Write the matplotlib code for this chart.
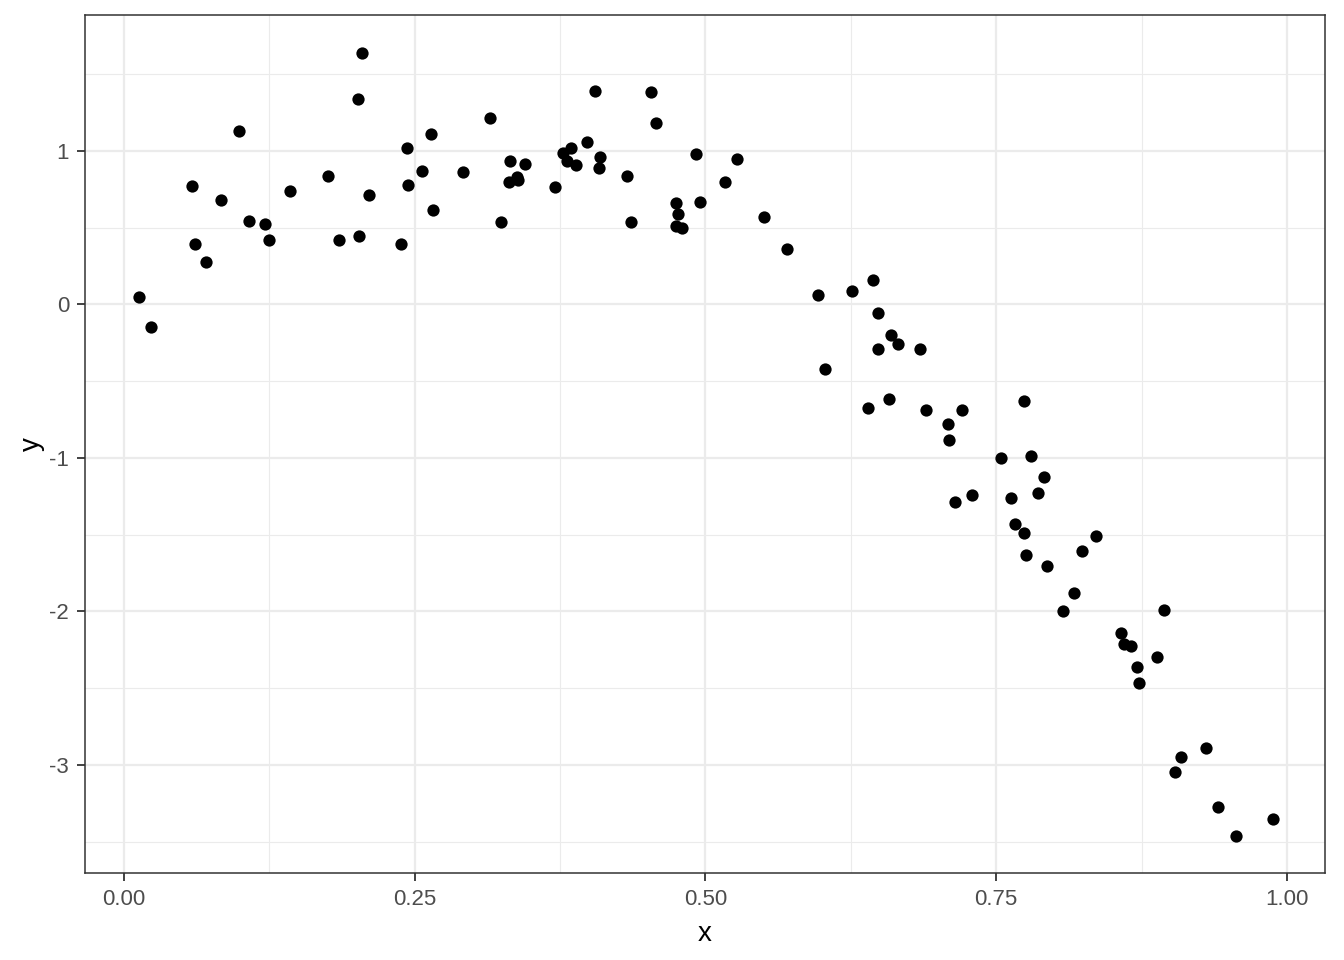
#!/usr/bin/env python3

import numpy as np
import matplotlib
matplotlib.use('Agg')
import matplotlib.pyplot as plt

plt.rcParams.update({
    'font.family': ['Liberation Sans', 'DejaVu Sans'],
})

# points
x = [0.0129, 0.0232, 0.0585, 0.0610, 0.0705, 0.0834, 0.0989, 0.1075, 0.1212, 0.1247,
     0.1427, 0.1754, 0.1849, 0.2012, 0.2021, 0.2046, 0.2107, 0.2382, 0.2433, 0.2442,
     0.2562, 0.2640, 0.2657, 0.2915, 0.3147, 0.3242, 0.3310, 0.3319, 0.3379, 0.3388,
     0.3448, 0.3706, 0.3775, 0.3809, 0.3844, 0.3886, 0.3981, 0.4050, 0.4093, 0.4084,
     0.4325, 0.4359, 0.4531, 0.4574, 0.4746, 0.4764, 0.4746, 0.4798, 0.4918, 0.4953,
     0.5168, 0.5271, 0.5503, 0.5701, 0.5967, 0.6028, 0.6260, 0.6397, 0.6440, 0.6483,
     0.6483, 0.6578, 0.6595, 0.6655, 0.6844, 0.6896, 0.7085, 0.7094, 0.7145, 0.7205,
     0.7291, 0.7541, 0.7627, 0.7661, 0.7739, 0.7739, 0.7756, 0.7799, 0.7859, 0.7911,
     0.7936, 0.8074, 0.8169, 0.8237, 0.8358, 0.8573, 0.8598, 0.8659, 0.8710, 0.8727,
     0.8882, 0.8942, 0.9037, 0.9089, 0.9304, 0.9407, 0.9561, 0.9880]
y = [0.049, -0.147, 0.772, 0.394, 0.277, 0.681, 1.130, 0.544, 0.524, 0.420,
     0.739, 0.837, 0.420, 1.339, 0.446, 1.638, 0.713, 0.394, 1.020, 0.779,
     0.870, 1.111, 0.616, 0.863, 1.215, 0.537, 0.798, 0.935, 0.831, 0.811,
     0.915, 0.765, 0.987, 0.935, 1.020, 0.909, 1.059, 1.391, 0.961, 0.889,
     0.837, 0.537, 1.384, 1.182, 0.661, 0.590, 0.511, 0.498, 0.980, 0.668,
     0.798, 0.948, 0.570, 0.362, 0.062, -0.420, 0.088, -0.674, 0.160, -0.055,
     -0.290, -0.616, -0.199, -0.257, -0.290, -0.687, -0.779, -0.883, -1.287, -0.687,
     -1.241, -1.000, -1.261, -1.430, -1.489, -0.629, -1.632, -0.987, -1.228, -1.124,
     -1.704, -1.997, -1.879, -1.603, -1.508, -2.140, -2.212, -2.225, -2.362, -2.466,
     -2.296, -1.990, -3.046, -2.948, -2.889, -3.274, -3.463, -3.352]

xTicks = [0.0, 0.25, 0.5, 0.75, 1.0]
xTickLabels = ['0.00', '0.25', '0.50', '0.75', '1.00']
yTicks = [-3, -2, -1, 0, 1]
yTickLabels = ['-3', '-2', '-1', '0', '1']

fig = plt.figure(figsize=(13.44, 9.6), dpi=100)
ax = fig.add_axes([85/1344, 1-873/960, 1240/1344, 858/960])

ax.scatter(x, y, s=78, color='black', linewidths=0, zorder=3)

ax.set_xlim(-0.0335, 1.0327)
ax.set_ylim(-3.704, 1.886)

ax.set_xticks(xTicks)
ax.set_xticklabels(xTickLabels)
ax.set_yticks(yTicks)
ax.set_yticklabels(yTickLabels)
ax.set_xticks([0.125, 0.375, 0.625, 0.875], minor=True)
ax.set_yticks([-3.5, -2.5, -1.5, -0.5, 0.5, 1.5], minor=True)

ax.grid(True, which='major', color='#EBEBEB', linewidth=1.6, zorder=0)
ax.grid(True, which='minor', color='#EBEBEB', linewidth=0.8, zorder=0)
ax.set_axisbelow(True)

ax.tick_params(which='major', direction='out', length=5.5, width=1.3,
               color='#333333', labelcolor='#4D4D4D', labelsize=16, pad=6)
ax.tick_params(which='minor', length=0)

for s in ax.spines.values():
    s.set_color('#333333')
    s.set_linewidth(1.1)

ax.set_xlabel('x', fontsize=20, color='black', labelpad=8)
ax.set_ylabel('y', fontsize=20, color='black', labelpad=3)

plt.savefig('out.png', dpi=100)
plt.close()
